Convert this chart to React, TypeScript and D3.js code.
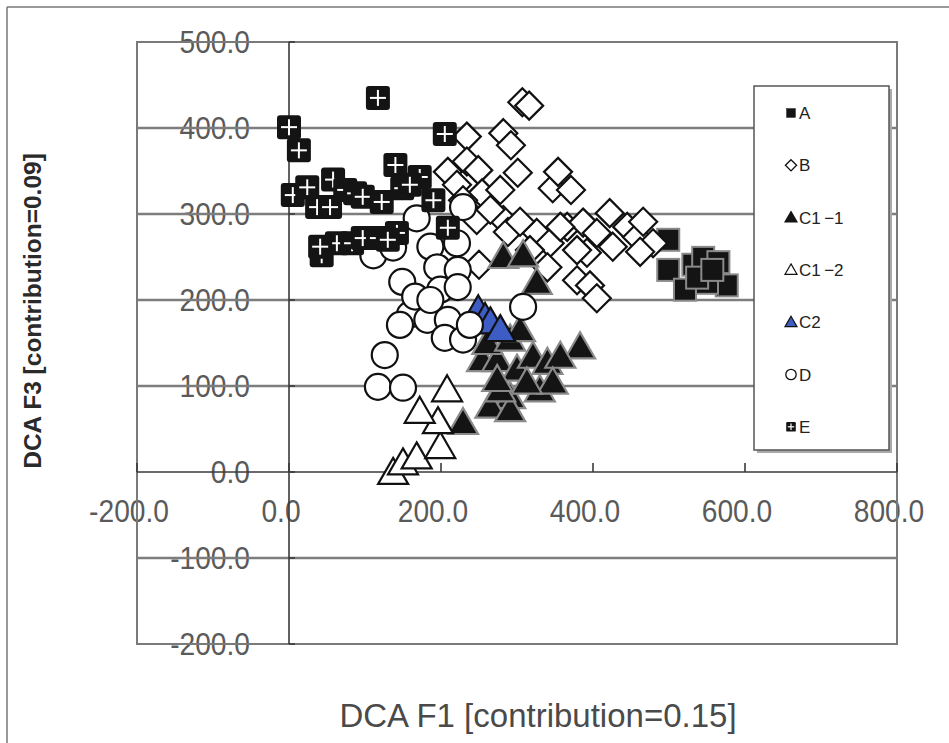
import React from "react";
import * as d3 from "d3";

const W = 949;
const H = 743;

const X_TICKS = [-200, 0, 200, 400, 600, 800];
const Y_TICKS = [-200, -100, 0, 100, 200, 300, 400, 500];
const GRID_Y = [-100, 100, 200, 300, 400];

const A_POINTS: [number, number][] = [
  [499, 270], [499, 235], [521, 212], [532, 241], [545, 249], [565, 244],
  [576, 217], [550, 220], [537, 226], [557, 235],
];

const B_POINTS: [number, number][] = [
  [307, 430], [316, 426], [234, 390], [282, 394], [292, 380], [301, 348],
  [234, 361], [209, 349], [221, 334], [249, 351], [254, 324], [247, 293],
  [347, 330], [354, 349], [371, 328], [282, 293], [288, 279], [326, 278],
  [343, 266], [340, 238], [366, 285], [387, 290], [422, 301], [405, 278],
  [392, 255], [379, 223], [396, 217], [405, 202], [426, 262], [445, 285],
  [458, 273], [479, 266], [466, 291], [462, 256], [304, 291], [357, 285],
  [379, 258], [278, 328], [265, 305], [229, 316], [317, 258], [250, 241],
];

const C11_POINTS: [number, number][] = [
  [282, 250], [308, 252], [326, 220], [383, 145], [254, 130], [274, 130],
  [300, 119], [321, 134], [340, 127], [357, 134], [291, 87], [330, 95],
  [347, 104], [265, 76], [291, 72], [229, 57], [278, 95], [313, 104],
  [261, 150], [291, 154], [304, 165], [274, 107],
];

const C12_POINTS: [number, number][] = [
  [137, -1], [150, 10], [168, 17], [199, 29], [196, 58], [172, 70], [208, 95],
];

const C2_POINTS: [number, number][] = [
  [249, 188], [258, 179], [265, 174], [278, 165],
];

const D_POINTS: [number, number][] = [
  [111, 252], [137, 261], [168, 295], [186, 262], [221, 266], [229, 308],
  [149, 221], [195, 238], [199, 212], [222, 235], [222, 215], [159, 183],
  [146, 171], [182, 177], [209, 177], [205, 156], [229, 154], [238, 171],
  [126, 136], [117, 99], [150, 98], [308, 192], [166, 204], [186, 200],
];

const E_POINTS: [number, number][] = [
  [0, 401], [13, 374], [117, 435], [5, 322], [24, 331], [37, 308],
  [58, 340], [54, 308], [74, 328], [87, 324], [97, 320], [122, 314],
  [140, 357], [149, 330], [172, 343], [190, 316], [205, 393], [209, 284],
  [43, 252], [63, 266], [83, 266], [97, 272], [117, 272], [142, 278],
  [159, 334], [41, 262], [130, 270],
];

const LEGEND_LABELS = ["A", "B", "C1\u2009\u22121", "C1\u2009\u22122", "C2", "D", "E"];

const X_TITLE = "DCA F1 [contribution=0.15]";
const Y_TITLE = "DCA F3 [contribution=0.09]";

const x = d3.scaleLinear().domain([-200, 800]).range([137, 897]);
const y = d3.scaleLinear().domain([-200, 500]).range([644, 42]);

const fmt = (v: number) => v.toFixed(1);

type Kind = "A" | "B" | "C11" | "C12" | "C2" | "D" | "E";

function Marker({ kind, cx, cy, s = 1 }: { kind: Kind; cx: number; cy: number; s?: number }) {
  switch (kind) {
    case "A": {
      const h = 11 * s;
      return <rect x={cx - h} y={cy - h} width={2 * h} height={2 * h} fill="#141414" stroke={s < 1 ? "#141414" : "#8a8a8a"} strokeWidth={s < 1 ? 0.5 : 2} />;
    }
    case "B": {
      const h = 14 * s;
      return <path d={`M${cx},${cy - h}L${cx + h},${cy}L${cx},${cy + h}L${cx - h},${cy}Z`} fill="#fff" stroke="#111" strokeWidth={s < 1 ? 1.3 : 2.2} />;
    }
    case "C11":
    case "C12":
    case "C2": {
      const hw = 15 * s;
      const top = 15 * s;
      const bot = 11 * s;
      const fill = kind === "C11" ? "#141414" : kind === "C12" ? "#fff" : "#3d5cc4";
      const stroke = kind === "C11" ? (s < 1 ? "#141414" : "#8a8a8a") : "#111";
      return <path d={`M${cx},${cy - top}L${cx + hw},${cy + bot}L${cx - hw},${cy + bot}Z`} fill={fill} stroke={stroke} strokeWidth={s < 1 ? 1.2 : 2.2} strokeLinejoin="miter" />;
    }
    case "D": {
      return <circle cx={cx} cy={cy} r={13 * s} fill="#fff" stroke="#111" strokeWidth={s < 1 ? 1.3 : 2.2} />;
    }
    case "E": {
      const h = 12 * s;
      const c = 8 * s;
      return (
        <g>
          <rect x={cx - h} y={cy - h} width={2 * h} height={2 * h} rx={3 * s} fill="#141414" />
          <line x1={cx - c} x2={cx + c} y1={cy} y2={cy} stroke="#fff" strokeWidth={s < 1 ? 1.2 : 2} />
          <line x1={cx} x2={cx} y1={cy - c} y2={cy + c} stroke="#fff" strokeWidth={s < 1 ? 1.2 : 2} />
        </g>
      );
    }
  }
  return null;
}

const SERIES: { kind: Kind; pts: [number, number][] }[] = [
  { kind: "A", pts: A_POINTS },
  { kind: "B", pts: B_POINTS },
  { kind: "C11", pts: C11_POINTS },
  { kind: "C12", pts: C12_POINTS },
  { kind: "C2", pts: C2_POINTS },
  { kind: "D", pts: D_POINTS },
  { kind: "E", pts: E_POINTS },
];

export default function App() {
  const x0 = x(0);
  const y0 = y(0);
  const labelFont = "Liberation Sans, Arial, sans-serif";
  return (
    <svg width={W} height={H} style={{ position: "absolute", left: 0, top: 0, background: "#fff" }}>
      <rect x={0} y={0} width={W} height={H} fill="#fff" />
      {/* outer frame (left & top visible) */}
      <line x1={7} x2={7} y1={7} y2={H} stroke="#777" strokeWidth={1.5} />
      <line x1={7} x2={W} y1={7} y2={7} stroke="#777" strokeWidth={1.5} />

      {/* y tick labels */}
      {Y_TICKS.map((t) => (
        <text
          key={"yl" + t}
          transform={`translate(250,${y(t) + 11}) scale(0.88,1)`}
          textAnchor="end"
          fontFamily={labelFont}
          fontSize={32}
          fill="#5a5a5a"
        >
          {fmt(t)}
        </text>
      ))}
      {/* x tick labels */}
      {X_TICKS.map((t) => (
        <text
          key={"xl" + t}
          transform={`translate(${x(t) - 8},${y0 + 50}) scale(0.88,1)`}
          textAnchor="middle"
          fontFamily={labelFont}
          fontSize={32}
          fill="#5a5a5a"
        >
          {fmt(t)}
        </text>
      ))}

      {/* plot frame */}
      <rect x={x(-200)} y={y(500)} width={x(800) - x(-200)} height={y(-200) - y(500)} fill="none" stroke="#7a7a7a" strokeWidth={2} />
      {/* gridlines */}
      {GRID_Y.map((t) => (
        <line key={"g" + t} x1={x(-200)} x2={x(800)} y1={y(t)} y2={y(t)} stroke="#7d7d7d" strokeWidth={2.5} />
      ))}
      {/* axes */}
      <line x1={x(-200)} x2={x(800)} y1={y0} y2={y0} stroke="#3a3a3a" strokeWidth={1.6} />
      <line x1={x0} x2={x0} y1={y(500)} y2={y(-200)} stroke="#3a3a3a" strokeWidth={1.6} />
      {X_TICKS.map((t) => (
        <line key={"xt" + t} x1={x(t)} x2={x(t)} y1={y0 - 9} y2={y0} stroke="#3a3a3a" strokeWidth={1.6} />
      ))}
      {Y_TICKS.map((t) => (
        <line key={"yt" + t} x1={x0} x2={x0 + 6} y1={y(t)} y2={y(t)} stroke="#3a3a3a" strokeWidth={1.6} />
      ))}

      {/* points */}
      {SERIES.map((s) => (
        <g key={s.kind}>
          {s.pts.map(([vx, vy], i) => (
            <Marker key={i} kind={s.kind} cx={x(vx)} cy={y(vy)} />
          ))}
        </g>
      ))}

      {/* legend */}
      <rect x={757} y={89} width={135} height={364} fill="#aaa" />
      <rect x={754} y={86} width={135} height={364} fill="#fff" stroke="#555" strokeWidth={1.5} />
      {SERIES.map((s, i) => {
        const cy = 113 + i * 52.3;
        return (
          <g key={"lg" + s.kind}>
            <Marker kind={s.kind} cx={791} cy={cy} s={0.4} />
            <text x={799} y={cy + 6} fontFamily={labelFont} fontSize={17} fill="#222">
              {LEGEND_LABELS[i]}
            </text>
          </g>
        );
      })}

      {/* axis titles */}
      <text x={538} y={727} textAnchor="middle" fontFamily={labelFont} fontSize={33} fill="#4a4a4a">
        {X_TITLE}
      </text>
      <text
        transform={`translate(41,${311}) rotate(-90)`}
        textAnchor="middle"
        fontFamily={labelFont}
        fontSize={24.5}
        fontWeight="bold"
        fill="#2a2a2a"
      >
        {Y_TITLE}
      </text>
    </svg>
  );
}
